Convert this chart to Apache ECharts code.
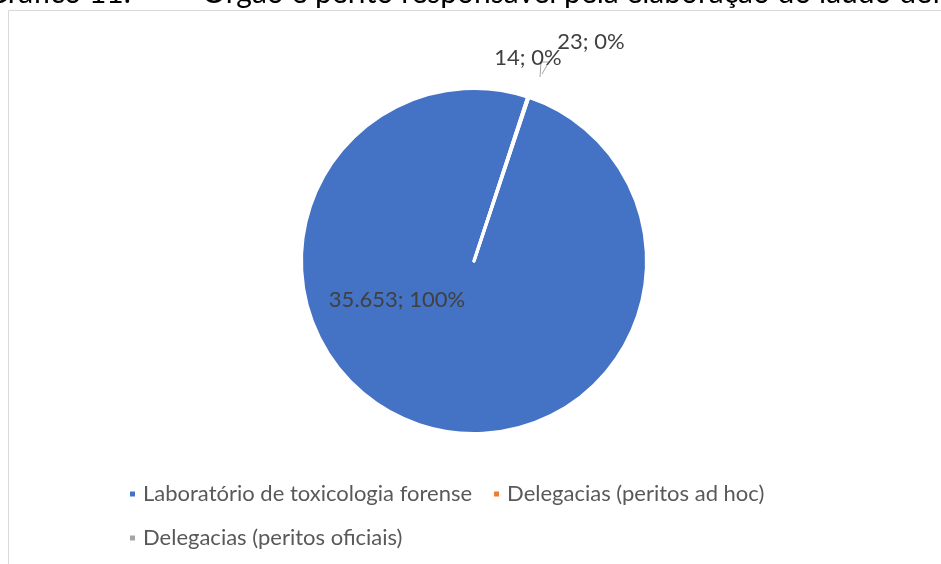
<!DOCTYPE html>
<html>
<head>
<meta charset="utf-8">
<script src="https://cdn.jsdelivr.net/npm/echarts@6/dist/echarts.min.js"></script>
<style>
  html, body { margin: 0; padding: 0; background: #ffffff; }
  #chart { width: 941px; height: 564px; }
</style>
</head>
<body>
<div id="chart"></div>
<script>
// Categories and counts of final reports by issuing body / expert
const categories = [
  'Laboratório de toxicologia forense',
  'Delegacias (peritos ad hoc)',
  'Delegacias (peritos oficiais)'
];
const counts = [35653, 14, 23];
const sliceColors = ['#4472C4', '#ED7D31', '#A5A5A5'];

const titleNumber = 'Gráfico 11.';
const titleText = 'Órgão e perito responsável pela elaboração do laudo definitivo';

const FONT = 'Lato, "Open Sans", sans-serif';
const CX = 474, CY = 261, R = 171;
const BORDER = 3;

// Brazilian number format: 35.653
function fmtNum(v) {
  return String(v).replace(/\B(?=(\d{3})+(?!\d))/g, '.');
}
const total = counts.reduce((a, b) => a + b, 0);

const chart = echarts.init(document.getElementById('chart'), null, { renderer: 'canvas' });

// Label anchor offsets relative to the pie centre
const labelOffsets = [
  { dx: -77, dy: 39, line: null },
  { dx: 54, dy: -203, line: [[66, -184], [67, -199], [75, -199]] },
  { dx: 117, dy: -219, line: [[68, -187], [75, -199]] }
];

chart.setOption({
  animation: false,
  backgroundColor: '#ffffff',
  graphic: [
    {
      type: 'rect',
      shape: { x: 8.5, y: 10.5, width: 1000, height: 1000 },
      style: { fill: 'none', stroke: '#d9d9d9', lineWidth: 1 },
      silent: true
    },
    {
      type: 'text',
      left: -14, top: -22,
      style: { text: titleNumber, font: '30px ' + FONT, fill: '#000000' }
    },
    {
      type: 'text',
      left: 202, top: -22,
      style: { text: titleText, font: '30px ' + FONT, fill: '#000000' }
    }
  ],
  legend: {
    left: 123,
    top: 477,
    width: 700,
    itemWidth: 7,
    itemHeight: 7,
    itemGap: 20,
    icon: 'rect',
    data: categories,
    textStyle: {
      color: '#595959',
      fontFamily: FONT,
      fontSize: 22,
      lineHeight: 24,
      padding: [0, 0, 0, 2]
    }
  },
  series: [{
    type: 'pie',
    center: [CX, CY],
    radius: [0, R + BORDER / 2],
    startAngle: 71.5,
    clockwise: true,
    avoidLabelOverlap: false,
    itemStyle: { borderColor: '#ffffff', borderWidth: BORDER },
    label: {
      show: true,
      color: '#404040',
      fontFamily: FONT,
      fontSize: 22,
      formatter: p => fmtNum(p.value) + '; ' + Math.round(p.value / total * 100) + '%'
    },
    labelLine: { show: true, lineStyle: { color: '#A5A5A5', width: 1 } },
    labelLayout: function (params) {
      const o = labelOffsets[params.dataIndex];
      const res = {
        x: CX + o.dx,
        y: CY + o.dy,
        align: 'center',
        verticalAlign: 'middle'
      };
      if (o.line) {
        res.labelLinePoints = o.line.map(p => [CX + p[0], CY + p[1]]);
      }
      return res;
    },
    data: categories.map((name, i) => ({
      name: name,
      value: counts[i],
      itemStyle: { color: sliceColors[i] },
      labelLine: { show: i !== 0 }
    }))
  }]
});
</script>
</body>
</html>
